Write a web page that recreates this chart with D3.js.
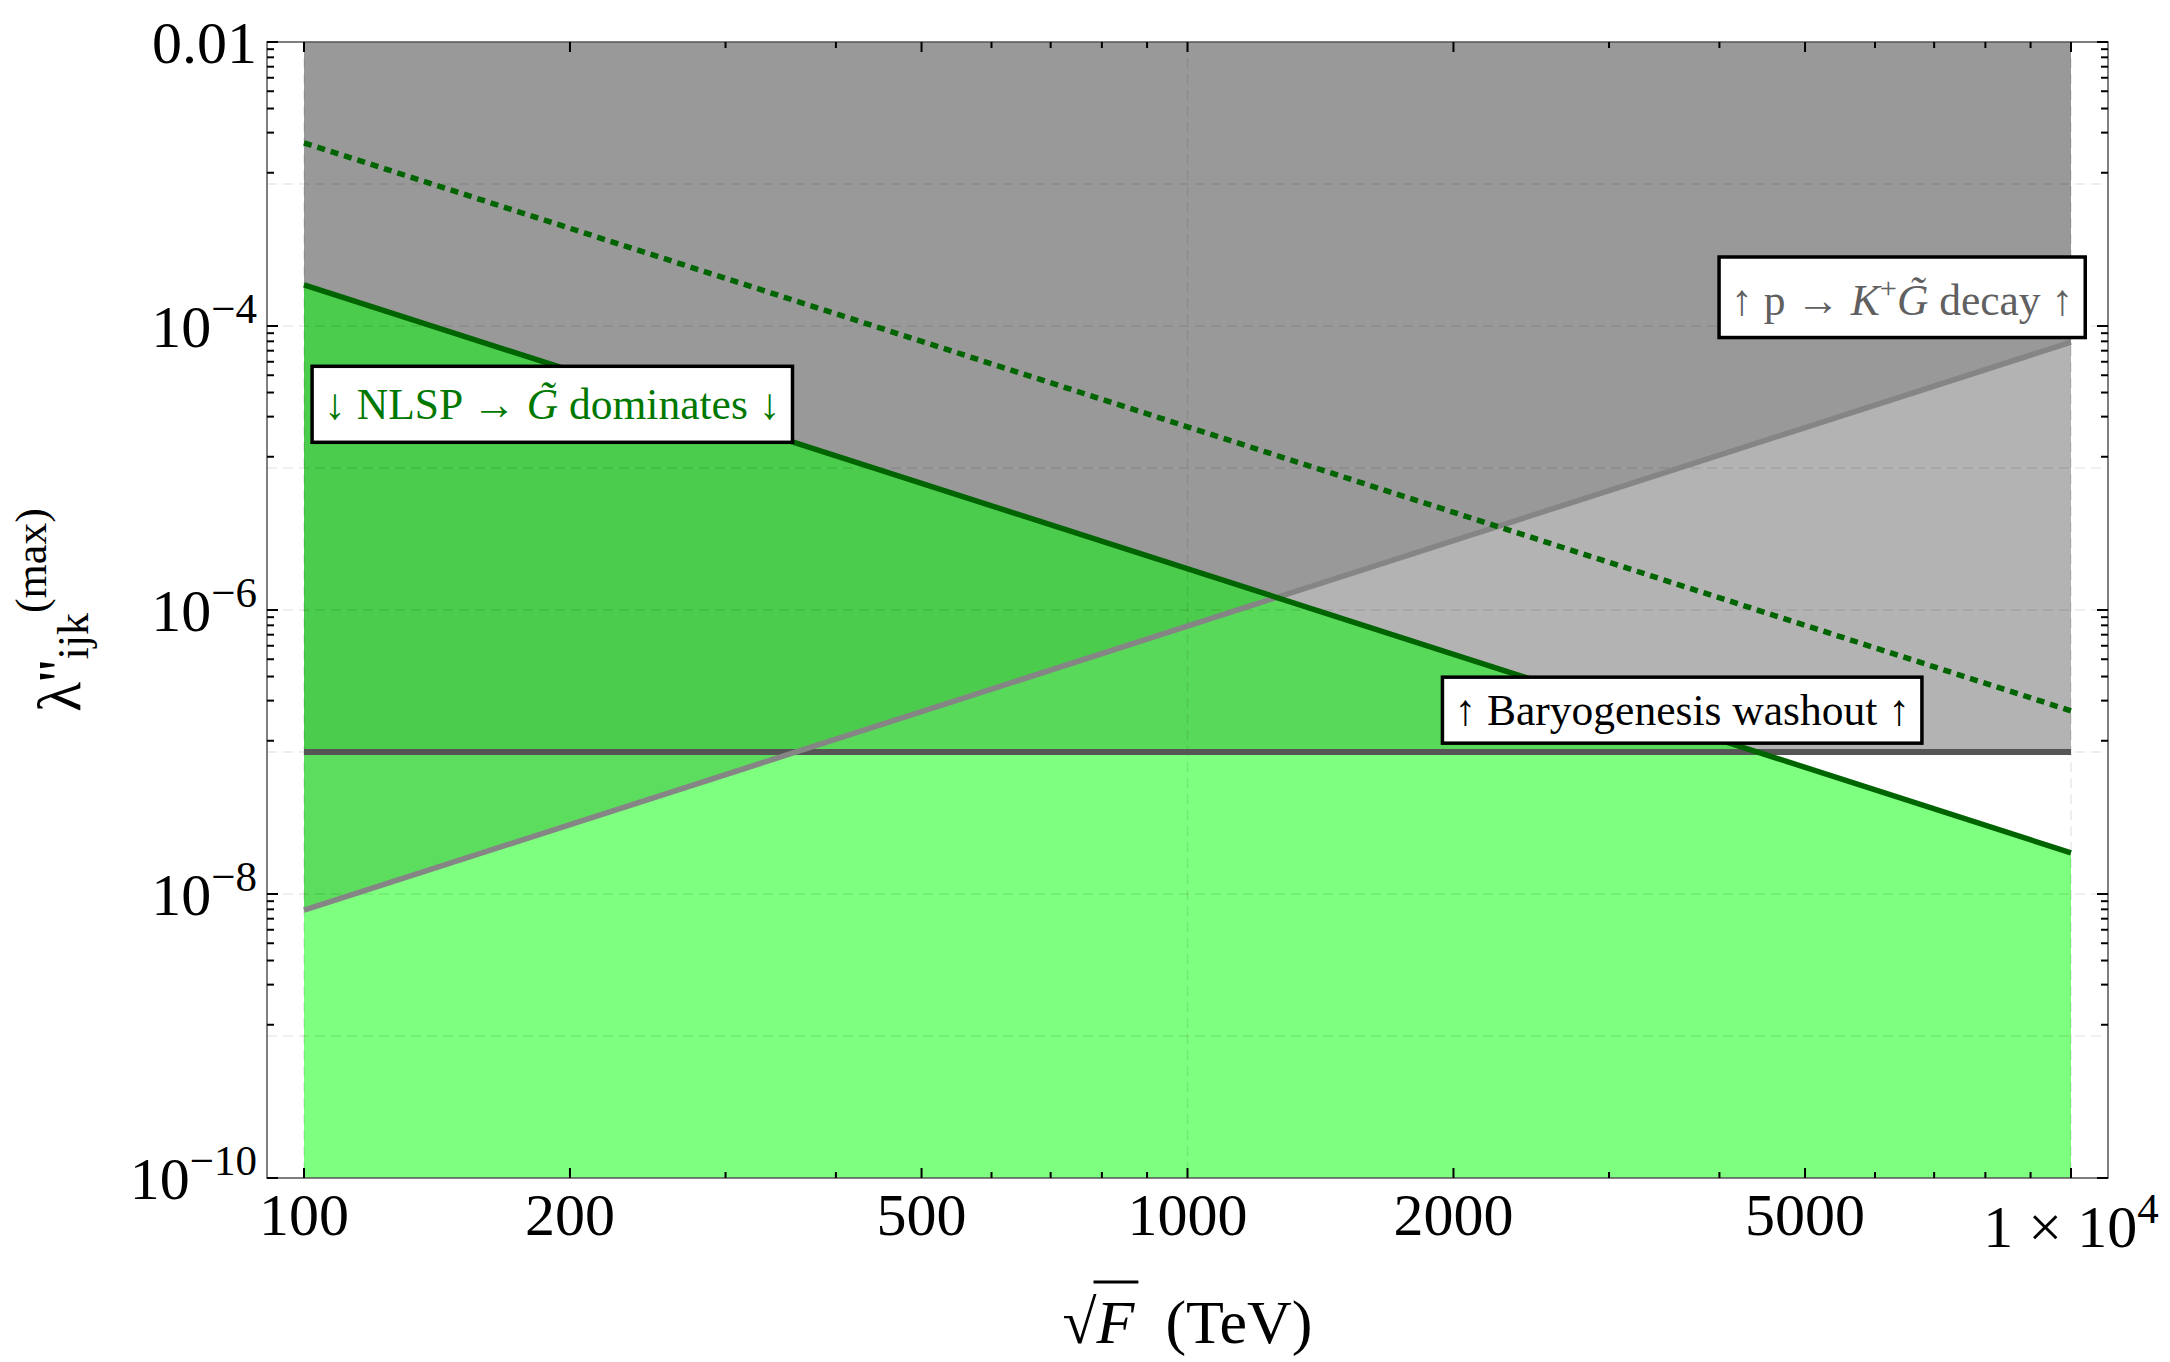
<!DOCTYPE html>
<html>
<head>
<meta charset="utf-8">
<script src="https://cdn.jsdelivr.net/npm/d3@7"></script>
<style>
  html, body { margin: 0; padding: 0; background: #fff; }
  svg { display: block; }
  text { font-family: "Liberation Serif", "Times New Roman", serif; }
</style>
</head>
<body>
<svg id="chart" width="2170" height="1362"></svg>
<script>
// ---- data -------------------------------------------------------------
// √F (TeV) at the two ends of the scan; every bound is a power law,
// so it is a straight segment on the log–log axes.
const sqrtF = [100, 10000];
// λ'' bound below which NLSP → G̃ decays dominate (solid) and its ×10 variant (dotted)
const nlspBound      = [1.95e-4, 1.95e-8];
const nlspBoundLoose = [1.95e-3, 1.95e-7];
// proton decay p → K⁺ G̃ excludes the region above this line
const protonDecayBound = [7.7e-9, 7.7e-5];
// baryogenesis washout excludes the region above this line
const washoutBound = [1e-7, 1e-7];

// ---- ticks and labels ---------------------------------------------------
const xMajorTicks = [100, 200, 500, 1000, 2000, 5000, 10000];
const xTickLabels = [
  { base: "100" }, { base: "200" }, { base: "500" }, { base: "1000" },
  { base: "2000" }, { base: "5000" }, { base: "1 × 10", sup: "4" }
];
const xMinorTicks = [300, 400, 600, 700, 800, 900, 3000, 4000, 6000, 7000, 8000, 9000];
const yMajorTicks = [1e-2, 1e-4, 1e-6, 1e-8, 1e-10];
const yTickLabels = [
  { base: "0.01" }, { base: "10", sup: "−4" }, { base: "10", sup: "−6" },
  { base: "10", sup: "−8" }, { base: "10", sup: "−10" }
];
const xGridLines = [100, 1000, 10000];
const yGridLines = [1e-9, 1e-8, 1e-7, 1e-6, 1e-5, 1e-4, 1e-3];

const regionLabels = [
  { at: [191, 2.78e-5], color: "#007800",
    parts: [{ t: "↓ NLSP → " }, { t: "G\u0303", it: true }, { t: " dominates ↓" }] },
  { at: [6440, 1.52e-4], color: "#606060",
    parts: [{ t: "↑ p → " }, { t: "K", it: true }, { t: "+", sup: true }, { t: "G\u0303", it: true }, { t: " decay ↑" }] },
  { at: [3630, 1.95e-7], color: "#000000",
    parts: [{ t: "↑ Baryogenesis washout ↑" }] }
];

// ---- layout -------------------------------------------------------------
const frame = { left: 267, right: 2108, top: 42, bottom: 1178 };
const svg = d3.select("#chart");

const x = d3.scaleLog().domain([100, 10000]).range([304, 2071]);
const y = d3.scaleLog().domain([1e-10, 1e-2]).range([frame.bottom, frame.top]);

const pts = vals => sqrtF.map((f, i) => ({ f, v: vals[i] }));
const yTop = y(1e-2), yBot = y(1e-10);

const areaAbove = d3.area().x(d => x(d.f)).y0(yTop).y1(d => y(d.v));
const areaBelow = d3.area().x(d => x(d.f)).y0(yBot).y1(d => y(d.v));
const line = d3.line().x(d => x(d.f)).y(d => y(d.v));

// ---- excluded regions ---------------------------------------------------
const defs = svg.append("defs");
defs.append("clipPath").attr("id", "aboveWashout")
  .append("path").attr("d", areaAbove(pts(washoutBound)));

const fills = svg.append("g");
fills.append("path").attr("d", areaAbove(pts(protonDecayBound))).attr("fill", "#bababa");
fills.append("path").attr("d", areaAbove(pts(washoutBound))).attr("fill", "#b3b3b3");
fills.append("path").attr("d", areaAbove(pts(protonDecayBound))).attr("fill", "#999999")
  .attr("clip-path", "url(#aboveWashout)");
// NLSP → G̃ dominated region, translucent green
fills.append("path").attr("d", areaBelow(pts(nlspBound)))
  .attr("fill", "rgb(0,255,0)").attr("fill-opacity", 0.5);

// ---- grid -----------------------------------------------------------------
const grid = svg.append("g").attr("stroke", "#000").attr("stroke-opacity", 0.09)
  .attr("stroke-width", 1.5).attr("stroke-dasharray", "10,6");
grid.selectAll(".gx").data(xGridLines).join("line")
  .attr("x1", d => x(d)).attr("x2", d => x(d)).attr("y1", frame.top).attr("y2", frame.bottom);
grid.selectAll(".gy").data(yGridLines).join("line")
  .attr("y1", d => y(d)).attr("y2", d => y(d)).attr("x1", frame.left).attr("x2", frame.right);

// ---- bound lines ----------------------------------------------------------
svg.append("path").attr("d", line(pts(washoutBound)))
  .attr("fill", "none").attr("stroke", "#555555").attr("stroke-width", 6);
svg.append("path").attr("d", line(pts(protonDecayBound)))
  .attr("fill", "none").attr("stroke", "#858585").attr("stroke-width", 5.5);
svg.append("path").attr("d", line(pts(nlspBound)))
  .attr("fill", "none").attr("stroke", "#006400").attr("stroke-width", 5.5);
svg.append("path").attr("d", line(pts(nlspBoundLoose)))
  .attr("fill", "none").attr("stroke", "#006400").attr("stroke-width", 5.5)
  .attr("stroke-dasharray", "8,6");

// ---- frame and ticks ------------------------------------------------------
svg.append("rect")
  .attr("x", frame.left).attr("y", frame.top)
  .attr("width", frame.right - frame.left).attr("height", frame.bottom - frame.top)
  .attr("fill", "none").attr("stroke", "#555").attr("stroke-width", 1.5);

const yMinorTicks = [];
for (let i = 0; i + 1 < yMajorTicks.length; i++) {
  const hi = yMajorTicks[i], lo = yMajorTicks[i + 1];
  for (let j = 1; j <= 8; j++) yMinorTicks.push(lo + j * (hi - lo) / 9);
}

const ticks = svg.append("g").attr("stroke", "#000").attr("stroke-width", 2);
function xTicks(vals, len) {
  ticks.selectAll(null).data(vals).join("line")
    .attr("x1", d => x(d)).attr("x2", d => x(d)).attr("y1", frame.bottom).attr("y2", frame.bottom - len);
  ticks.selectAll(null).data(vals).join("line")
    .attr("x1", d => x(d)).attr("x2", d => x(d)).attr("y1", frame.top).attr("y2", frame.top + len);
}
function yTicks(vals, len) {
  ticks.selectAll(null).data(vals).join("line")
    .attr("y1", d => y(d)).attr("y2", d => y(d)).attr("x1", frame.left).attr("x2", frame.left + len);
  ticks.selectAll(null).data(vals).join("line")
    .attr("y1", d => y(d)).attr("y2", d => y(d)).attr("x1", frame.right).attr("x2", frame.right - len);
}
xTicks(xMajorTicks, 10); xTicks(xMinorTicks, 6);
yTicks(yMajorTicks, 11); yTicks(yMinorTicks, 7);

// ---- tick labels ----------------------------------------------------------
const tickFont = 60, supFont = 43;
function labelText(g, d) {
  g.append("tspan").text(d.base);
  if (d.sup) {
    g.append("tspan").attr("font-size", supFont).attr("dy", -24).text(d.sup);
  }
}
xMajorTicks.forEach((v, i) => {
  const d = xTickLabels[i];
  const t = svg.append("text").attr("x", x(v)).attr("y", 1235 + (d.sup ? 12 : 0))
    .attr("font-size", tickFont).attr("text-anchor", "middle").attr("fill", "#000");
  labelText(t, d);
});
yMajorTicks.forEach((v, i) => {
  const d = yTickLabels[i];
  const t = svg.append("text").attr("x", 257).attr("y", y(v) + 21)
    .attr("font-size", tickFont).attr("text-anchor", "end").attr("fill", "#000");
  labelText(t, d);
});

// ---- axis titles ----------------------------------------------------------
const xTitleBase = 1343;
const xTitle = svg.append("text").attr("x", (frame.left + frame.right) / 2).attr("y", xTitleBase)
  .attr("font-size", 62).attr("text-anchor", "middle").attr("fill", "#000");
xTitle.append("tspan").text("√");
xTitle.append("tspan").attr("font-style", "italic").text("F");
xTitle.append("tspan").text("\u2002(TeV)");
{
  const ext = xTitle.node().getExtentOfChar(1);
  const rad = xTitle.node().getExtentOfChar(0);
  svg.append("line")
    .attr("x1", rad.x + rad.width - 3).attr("x2", ext.x + ext.width + 4)
    .attr("y1", xTitleBase - 61).attr("y2", xTitleBase - 61)
    .attr("stroke", "#000").attr("stroke-width", 3);
}

const yTitle = svg.append("text")
  .attr("transform", `translate(80,${(frame.top + frame.bottom) / 2}) rotate(-90)`)
  .attr("font-size", 62).attr("text-anchor", "middle").attr("fill", "#000");
yTitle.append("tspan").text("λ''");
yTitle.append("tspan").attr("font-size", 44).attr("dy", 8).text("ijk");
yTitle.append("tspan").attr("font-size", 44).attr("dy", -42).text("(max)");

// ---- framed region labels -------------------------------------------------
const boxFont = 43.5;
regionLabels.forEach(lab => {
  const g = svg.append("g");
  const cx = x(lab.at[0]), cy = y(lab.at[1]);
  const t = g.append("text").attr("x", cx).attr("y", cy + boxFont * 0.33)
    .attr("font-size", boxFont).attr("text-anchor", "middle").attr("fill", lab.color);
  lab.parts.forEach((p, i) => {
    const s = t.append("tspan").text(p.t);
    if (p.it) s.attr("font-style", "italic");
    if (p.sup) s.attr("font-size", boxFont * 0.7).attr("dy", -boxFont * 0.38);
    const prev = lab.parts[i - 1];
    if (prev && prev.sup) s.attr("dy", boxFont * 0.38);
  });
  const bb = t.node().getBBox();
  // labels with accented symbols are framed a little taller
  const padX = 12, padY = lab.parts.some(p => p.it) ? 14 : 9;
  g.insert("rect", "text")
    .attr("x", bb.x - padX).attr("y", bb.y - padY)
    .attr("width", bb.width + 2 * padX).attr("height", bb.height + 2 * padY)
    .attr("fill", "#fff").attr("stroke", "#000").attr("stroke-width", 3.5);
});
</script>
</body>
</html>
